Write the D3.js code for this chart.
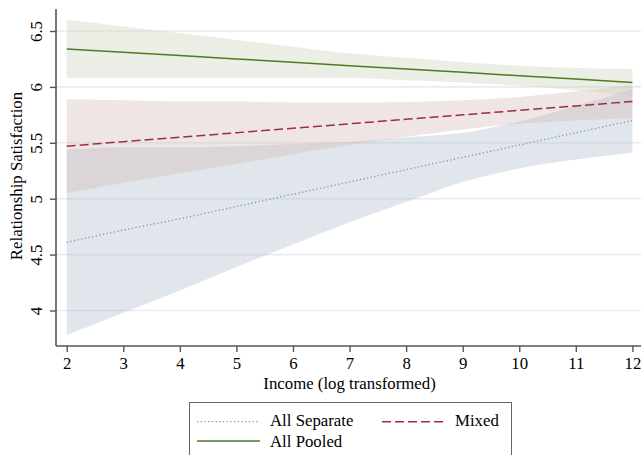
<!DOCTYPE html>
<html>
<head>
<meta charset="utf-8">
<script src="https://cdn.jsdelivr.net/npm/d3@7"></script>
<style>
  body { margin: 0; background: #fff; }
  svg { display: block; font-family: "Liberation Serif", "Times New Roman", serif; }
</style>
</head>
<body>
<svg id="chart"></svg>
<script>
// income (log) at which predictions are shown
const income = [2, 3, 4, 5, 6, 7, 8, 9, 10, 11, 12];

// All Separate
const sepMean = [4.61, 4.72, 4.82, 4.93, 5.04, 5.15, 5.26, 5.37, 5.48, 5.59, 5.70];
const sepLow  = [3.78, 3.98, 4.18, 4.39, 4.59, 4.79, 4.97, 5.15, 5.27, 5.35, 5.41];
const sepHigh = [5.44, 5.46, 5.46, 5.47, 5.49, 5.51, 5.55, 5.59, 5.69, 5.83, 5.98];

// Mixed
const mixMean = [5.47, 5.51, 5.55, 5.59, 5.63, 5.67, 5.71, 5.75, 5.79, 5.83, 5.87];
const mixLow  = [5.05, 5.14, 5.23, 5.31, 5.40, 5.48, 5.555, 5.62, 5.67, 5.70, 5.72];
const mixHigh = [5.89, 5.88, 5.87, 5.87, 5.86, 5.86, 5.865, 5.88, 5.91, 5.96, 6.02];

// All Pooled
const poolMean = [6.34, 6.31, 6.28, 6.25, 6.22, 6.19, 6.16, 6.13, 6.10, 6.07, 6.04];
const poolLow  = [6.08, 6.08, 6.08, 6.08, 6.08, 6.08, 6.06, 6.04, 6.01, 5.97, 5.92];
const poolHigh = [6.60, 6.54, 6.48, 6.42, 6.36, 6.30, 6.26, 6.22, 6.19, 6.17, 6.16];

const yTicks = [4, 4.5, 5, 5.5, 6, 6.5];

const w = 641;
const h = 455;
const left = 56;
const bottom = 346;
const fs = "16.8px";

const svg = d3.select("#chart").attr("width", w).attr("height", h);

const x = d3.scaleLinear().domain([2, 12]).range([66.7, 632.4]);
const y = d3.scaleLinear().domain([4, 6.5]).range([310.5, 31]);

// gridlines
svg.append("g")
  .selectAll("line")
  .data(yTicks)
  .enter()
  .append("line")
  .attr("x1", left)
  .attr("x2", w)
  .attr("y1", (d) => y(d))
  .attr("y2", (d) => y(d))
  .attr("stroke", "#e6edf1")
  .attr("stroke-width", 1.6);

const series = [
  { name: "All Separate", mean: sepMean, lo: sepLow, hi: sepHigh, fill: "#a9b8c9", line: "#8097ae", dash: "1.3,2.4", sw: 1.3 },
  { name: "Mixed", mean: mixMean, lo: mixLow, hi: mixHigh, fill: "#d1b5b5", line: "#9b2f3d", dash: "9,4", sw: 1.5 },
  { name: "All Pooled", mean: poolMean, lo: poolLow, hi: poolHigh, fill: "#c4cfb4", line: "#4d7a25", dash: null, sw: 1.5 }
];

const band = d3.area()
  .x((d) => x(d.x))
  .y0((d) => y(d.lo))
  .y1((d) => y(d.hi))
  .curve(d3.curveMonotoneX);

series.forEach((s) => {
  const pts = income.map((v, i) => ({ x: v, lo: s.lo[i], hi: s.hi[i] }));
  svg.append("path")
    .datum(pts)
    .attr("d", band)
    .attr("fill", s.fill)
    .attr("fill-opacity", 0.35);
});

const line = d3.line()
  .x((d) => x(d.x))
  .y((d) => y(d.y));

series.forEach((s) => {
  const pts = income.map((v, i) => ({ x: v, y: s.mean[i] }));
  svg.append("path")
    .datum(pts)
    .attr("d", line)
    .attr("fill", "none")
    .attr("stroke", s.line)
    .attr("stroke-width", s.sw)
    .attr("stroke-dasharray", s.dash);
});

// y axis
const yAxis = svg.append("g")
  .attr("transform", `translate(${left},0)`)
  .call(d3.axisLeft(y).tickValues(yTicks).tickSize(6).tickSizeOuter(0).tickFormat(d3.format("")));
yAxis.select(".domain").attr("d", `M0,9V${bottom}`).attr("stroke", "#555").attr("stroke-width", 1.6);
yAxis.selectAll(".tick line").attr("stroke", "#555").attr("stroke-width", 1.4);
yAxis.selectAll(".tick text")
  .attr("x", null)
  .attr("dy", null)
  .attr("transform", "translate(-14,0) rotate(-90)")
  .attr("text-anchor", "middle")
  .attr("fill", "#000")
  .style("font-size", fs)
  .style("font-family", "Liberation Serif");

// x axis
const xAxis = svg.append("g")
  .attr("transform", `translate(0,${bottom})`)
  .call(d3.axisBottom(x).tickValues(income).tickSize(6).tickSizeOuter(0).tickFormat(d3.format("d")));
xAxis.select(".domain").attr("d", `M${left},0H${w}`).attr("stroke", "#555").attr("stroke-width", 1.6);
xAxis.selectAll(".tick line").attr("stroke", "#555").attr("stroke-width", 1.4);
xAxis.selectAll(".tick text")
  .attr("y", 22.5)
  .attr("dy", null)
  .attr("fill", "#000")
  .style("font-size", fs)
  .style("font-family", "Liberation Serif");

svg.append("text")
  .attr("x", (x(2) + x(12)) / 2)
  .attr("y", 388.5)
  .attr("text-anchor", "middle")
  .style("font-size", fs)
  .text("Income (log transformed)");

svg.append("text")
  .attr("transform", "translate(22,176) rotate(-90)")
  .attr("text-anchor", "middle")
  .style("font-size", fs)
  .text("Relationship Satisfaction");

// legend
const legend = svg.append("g");
legend.append("rect")
  .attr("x", 189.5)
  .attr("y", 402.5)
  .attr("width", 322)
  .attr("height", 70)
  .attr("fill", "#fff")
  .attr("stroke", "#666")
  .attr("stroke-width", 1);

const legendPos = [
  { lx: 197, ly: 421.7, tx: 270, ty: 425.5 },
  { lx: 382, ly: 421.7, tx: 455, ty: 425.5 },
  { lx: 197, ly: 441, tx: 270, ty: 446.5 }
];

series.forEach((s, i) => {
  const p = legendPos[i];
  legend.append("line")
    .attr("x1", p.lx)
    .attr("x2", p.lx + 63)
    .attr("y1", p.ly)
    .attr("y2", p.ly)
    .attr("stroke", s.line)
    .attr("stroke-width", s.sw)
    .attr("stroke-dasharray", s.dash);
  legend.append("text")
    .attr("x", p.tx)
    .attr("y", p.ty)
    .style("font-size", fs)
    .text(s.name);
});
</script>
</body>
</html>
